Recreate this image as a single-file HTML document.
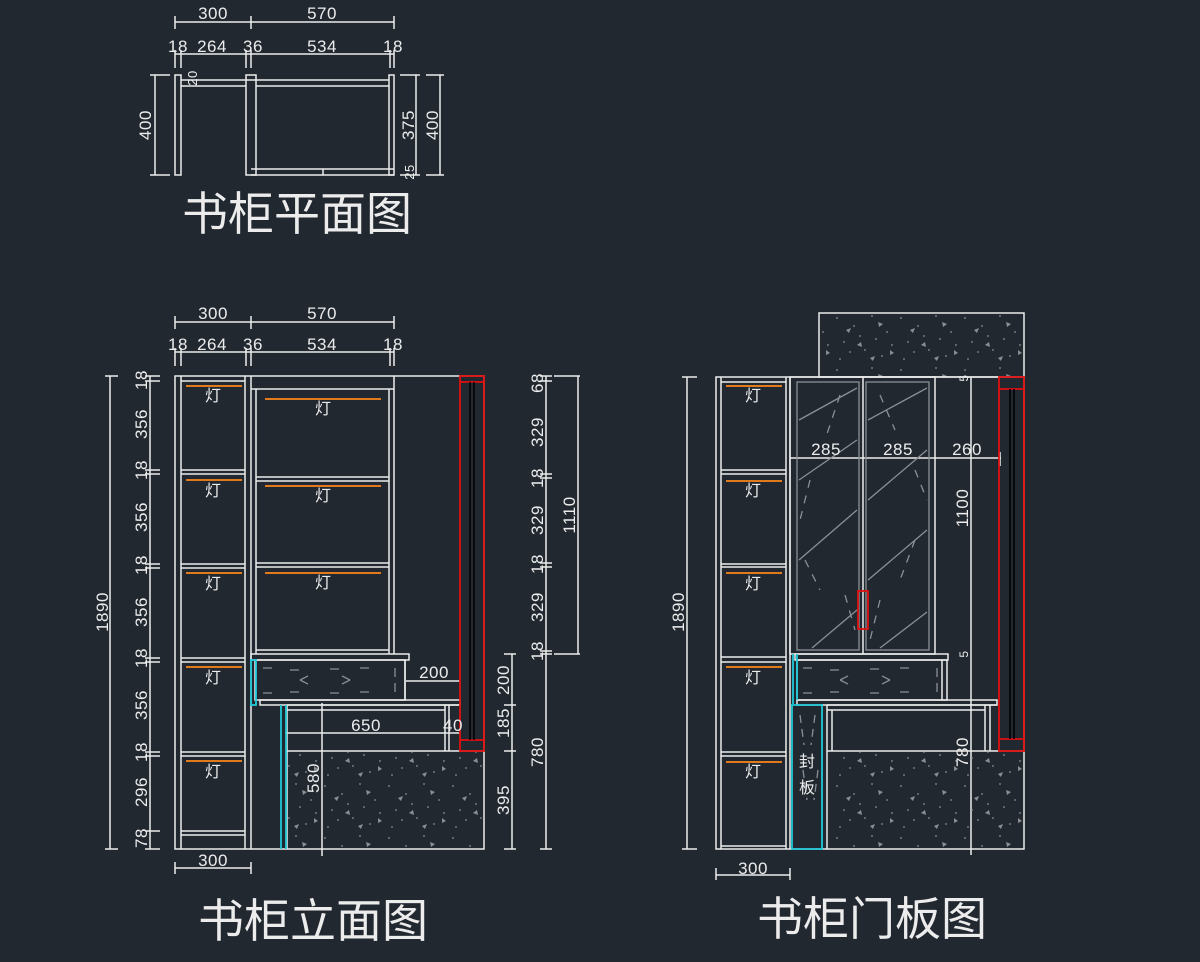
<!DOCTYPE html>
<html><head><meta charset="utf-8"><style>
html,body{margin:0;padding:0;background:#212830;}
svg{display:block;}
text{font-family:"Liberation Sans","Noto Sans CJK SC",sans-serif;fill:#ececec;}
.d{font-size:17px;letter-spacing:0.5px;}
.t{font-size:46px;font-family:"Noto Sans CJK SC","WenQuanYi Zen Hei",sans-serif;}
.c{font-size:16px;font-family:"Noto Sans CJK SC",sans-serif;}
</style></head><body>
<svg width="1200" height="962" viewBox="0 0 1200 962" xmlns="http://www.w3.org/2000/svg">
<defs>
<pattern id="st" width="64" height="52" patternUnits="userSpaceOnUse">
<g fill="#8a8f96">
<circle cx="5" cy="6" r="0.9"/><circle cx="22" cy="14" r="0.9"/><circle cx="40" cy="4" r="0.9"/><circle cx="55" cy="20" r="0.9"/>
<circle cx="12" cy="30" r="0.9"/><circle cx="33" cy="38" r="0.9"/><circle cx="50" cy="44" r="0.9"/><circle cx="8" cy="47" r="0.9"/>
<circle cx="28" cy="24" r="0.9"/><circle cx="60" cy="33" r="0.9"/><circle cx="44" cy="27" r="0.9"/><circle cx="18" cy="40" r="0.9"/>
<polygon points="14,18 19,16 17,21"/><polygon points="46,10 51,12 47,15"/><polygon points="38,46 43,44 41,49"/><polygon points="58,38 62,41 58,43"/><polygon points="25,33 29,30 30,35"/>
</g>
</pattern>
</defs>
<g stroke="#ececec" stroke-width="1.5" fill="none">
<path d="M175,22H394M175,16V29M251,16V29M394,16V29"/>
<path d="M175,54H394M175,50V68M181,50V68M246,50V68M251,50V68M390,50V68M394,50V68"/>
<rect x="175" y="75" width="6" height="100"/>
<rect x="246" y="75" width="10" height="100"/>
<rect x="389" y="75" width="5" height="100"/>
<path d="M181,80H389M181,86H246M256,86H389"/>
<path d="M251,169H394M251,175H394M323,169V175"/>
<path d="M155,75V175M150,75H170M150,175H170"/>
<path d="M416,75V175M400,75H420M400,175H420"/>
<path d="M440,75V175M426,75H444M426,175H444"/>
<path d="M175,322H394M175,316V329M251,316V329M394,316V329"/>
<path d="M175,352H394M175,348V366M181,348V366M246,348V366M251,348V366M390,348V366M394,348V366"/>
<rect x="175" y="376" width="309" height="473"/>
<path d="M181,376V849M245,376V849M251,376V849"/>
<path d="M181,381H245M181,470H245M181,474H245M181,564H245M181,568H245M181,658H245M181,662H245M181,752H245M181,756H245M181,831H245M181,835H245"/>
<path d="M394,376V654M251,389H394M256,389V654M389,389V654M256,477H389M256,481H389M256,563H389M256,567H389M256,650H389"/>
<rect x="251" y="654" width="158" height="6"/>
<rect x="255" y="660" width="150" height="40"/>
<path d="M405,660V700"/>
<rect x="260" y="700" width="200" height="5"/>
<path d="M287,705H460M287,710H445M287,705V849M445,705V751M449,705V751"/>
<path d="M287,751H484"/>
<path d="M110,376V849M105,376H118M105,849H118"/>
<path d="M150,376V849M145,376H160M145,381H160M145,470H160M145,474H160M145,564H160M145,568H160M145,658H160M145,662H160M145,752H160M145,756H160M145,831H160M145,849H160"/>
<path d="M546,376V849M540,376H552M540,381H552M540,474H552M540,478H552M540,563H552M540,567H552M540,651H552M540,654H552M540,849H552"/>
<path d="M578,376V654M554,376H580M554,654H580"/>
<path d="M512,654V849M504,654H516M504,705H516M504,751H516M504,849H516"/>
<path d="M406,681H460M285,733H460M322,703V856"/>
<path d="M175,868H251M175,862V874M251,862V874"/>
<rect x="819" y="313" width="205" height="64" fill="url(#st)"/>
<rect x="716" y="377" width="308" height="472"/>
<path d="M721,377V849M786,377V849M790,377V849"/>
<path d="M721,382H786M721,470H786M721,474H786M721,564H786M721,567H786M721,657H786M721,662H786M721,752H786M721,756H786M721,846H786"/>
<rect x="790" y="377" width="145" height="277"/>
<path d="M863,377V654"/>
<rect x="795" y="654" width="153" height="6"/>
<rect x="797" y="660" width="150" height="40"/>
<path d="M942,660V700"/>
<rect x="797" y="700" width="200" height="5"/>
<path d="M827,705H997M827,710H985M827,705V849M832,710V751M985,705V751M990,705V751M827,751H1024"/>
<path d="M971,377V855"/>
<path d="M790,458H1001M1000,452V466"/>
<path d="M687,377V849M682,377H697M682,849H697"/>
<path d="M716,875H790M716,868V880M790,868V880"/>
</g>
<rect x="288" y="752" width="195" height="96" fill="url(#st)"/>
<rect x="833" y="752" width="190" height="96" fill="url(#st)"/>
<g stroke="#8c9096" stroke-width="1.3" fill="none">
<rect x="797" y="382" width="62" height="268"/><rect x="866" y="382" width="63" height="268"/>
<path d="M799,420L857,388M799,480L857,440M799,560L857,510M812,648L857,610M868,420L927,388M868,500L927,450M868,580L927,530M880,648L927,612"/>
<path d="M840,395L825,440M810,480L800,520M805,560L820,590M845,595L855,630M880,395L895,430M915,470L927,500M915,540L900,580M880,600L870,640" stroke-dasharray="8 8"/>
<path d="M263,668h10M290,670h14M330,669h12M360,668h12M263,693h10M290,692h14M330,693h12M360,692h12M395,668v25M300,680l12-6M300,680l12,6M350,680l-12-6M350,680l-12,6" stroke-dasharray="9 6"/>
<path d="M803,668h10M830,670h14M870,669h12M900,668h12M803,693h10M830,692h14M870,693h12M900,692h12M937,668v25M840,680l12-6M840,680l12,6M890,680l-12-6M890,680l-12,6" stroke-dasharray="9 6"/>
<path d="M800,715l4,30M815,715l-4,30M803,770l4,30M818,770l-4,30" stroke-dasharray="8 6"/>
</g>
<g stroke="#e07a1c" stroke-width="2">
<path d="M186,386H242M186,480H242M186,573H242M186,667H242M186,761H242"/>
<path d="M265,399H381M265,486H381M265,573H381"/>
<path d="M726,386H782M726,481H782M726,573H782M726,667H782M726,762H782"/>
</g>
<g stroke="#1fc8d8" stroke-width="1.8" fill="none">
<rect x="251" y="660" width="5" height="45"/>
<path d="M281,705V849M286,705V849"/>
<path d="M793,654V704M797,654V700M792,705H822V849H792Z"/>
</g>
<g stroke="#e01010" stroke-width="1.8" fill="none">
<rect x="460" y="376" width="24" height="375"/>
<path d="M460,382H484M460,740H484"/>
<rect x="999" y="377" width="25" height="374"/>
<path d="M999,389H1024M999,739H1024"/>
<rect x="858" y="591" width="10" height="38"/>
</g>
<g stroke="#000" stroke-width="1.5"><path d="M470,382V740M474,382V740M1010,389V739M1014,389V739"/></g>
<g class="d" text-anchor="middle">
<text x="213" y="19">300</text><text x="322" y="19">570</text>
<text x="178" y="52">18</text><text x="212" y="52">264</text><text x="253" y="52">36</text><text x="322" y="52">534</text><text x="393" y="52">18</text>
<text transform="translate(151,125) rotate(-90)">400</text>
<text transform="translate(414,125) rotate(-90)">375</text>
<text transform="translate(438,125) rotate(-90)">400</text>
<text transform="translate(414,172) rotate(-90)" font-size="13">25</text>
<text transform="translate(197,78) rotate(-90)" font-size="13">20</text>
<text x="213" y="319">300</text><text x="322" y="319">570</text>
<text x="178" y="350">18</text><text x="212" y="350">264</text><text x="253" y="350">36</text><text x="322" y="350">534</text><text x="393" y="350">18</text>
<text transform="translate(108,612) rotate(-90)">1890</text>
<text transform="translate(147,380) rotate(-90)">18</text>
<text transform="translate(147,424) rotate(-90)">356</text>
<text transform="translate(147,470) rotate(-90)">18</text>
<text transform="translate(147,517) rotate(-90)">356</text>
<text transform="translate(147,565) rotate(-90)">18</text>
<text transform="translate(147,612) rotate(-90)">356</text>
<text transform="translate(147,658) rotate(-90)">18</text>
<text transform="translate(147,705) rotate(-90)">356</text>
<text transform="translate(147,752) rotate(-90)">18</text>
<text transform="translate(147,792) rotate(-90)">296</text>
<text transform="translate(147,838) rotate(-90)">78</text>
<text transform="translate(543,383) rotate(-90)">68</text>
<text transform="translate(543,432) rotate(-90)">329</text>
<text transform="translate(543,478) rotate(-90)">18</text>
<text transform="translate(543,520) rotate(-90)">329</text>
<text transform="translate(543,564) rotate(-90)">18</text>
<text transform="translate(543,607) rotate(-90)">329</text>
<text transform="translate(543,651) rotate(-90)">18</text>
<text transform="translate(543,752) rotate(-90)">780</text>
<text transform="translate(575,515) rotate(-90)">1110</text>
<text transform="translate(509,680) rotate(-90)">200</text>
<text transform="translate(509,723) rotate(-90)">185</text>
<text transform="translate(509,800) rotate(-90)">395</text>
<text x="434" y="678">200</text><text x="366" y="731">650</text><text x="453" y="731">40</text>
<text transform="translate(319,778) rotate(-90)">580</text>
<text x="213" y="866">300</text>
<text transform="translate(684,612) rotate(-90)">1890</text>
<text x="826" y="455">285</text><text x="898" y="455">285</text><text x="967" y="455">260</text>
<text transform="translate(968,508) rotate(-90)">1100</text>
<text transform="translate(968,752) rotate(-90)">780</text>
<text transform="translate(968,378) rotate(-90)" font-size="12">5</text>
<text transform="translate(968,654) rotate(-90)" font-size="12">5</text>
<text x="753" y="874">300</text>
</g>
<g class="c" text-anchor="middle">
<text x="213" y="401">灯</text><text x="213" y="496">灯</text><text x="213" y="589">灯</text><text x="213" y="683">灯</text><text x="213" y="777">灯</text>
<text x="323" y="414">灯</text><text x="323" y="501">灯</text><text x="323" y="588">灯</text>
<text x="753" y="401">灯</text><text x="753" y="496">灯</text><text x="753" y="589">灯</text><text x="753" y="683">灯</text><text x="753" y="777">灯</text>
<text x="807" y="767">封</text><text x="807" y="793">板</text>
</g>
<g class="t" text-anchor="middle">
<text x="297" y="230">书柜平面图</text>
<text x="313" y="937">书柜立面图</text>
<text x="872" y="935">书柜门板图</text>
</g>
</svg>
</body></html>
